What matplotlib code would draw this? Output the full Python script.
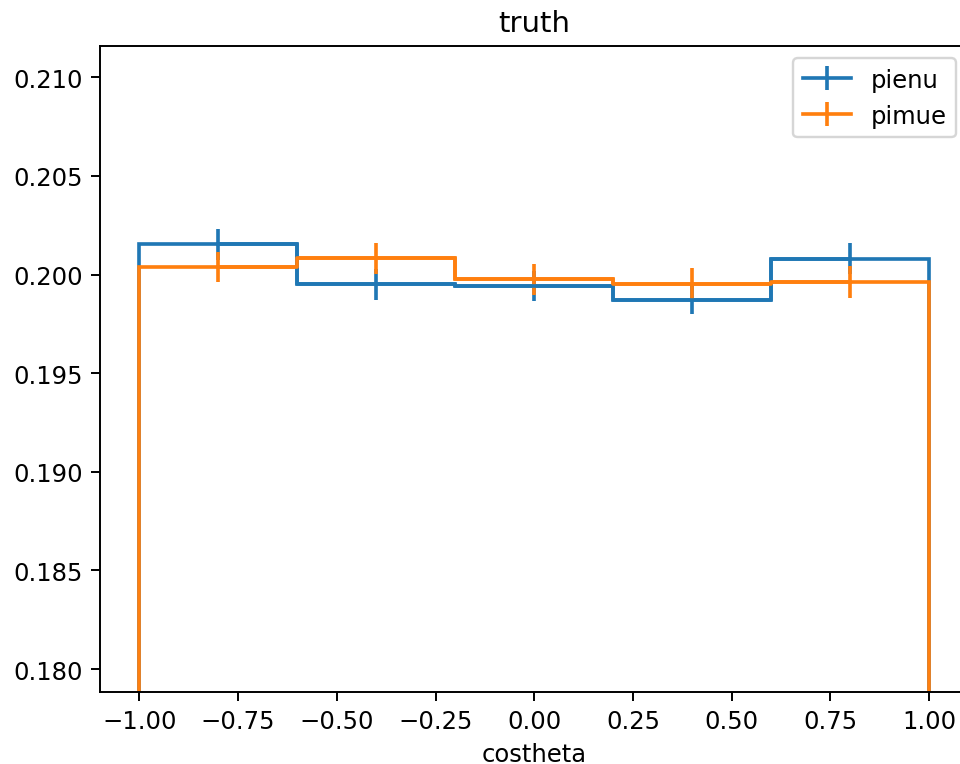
import numpy as np
import matplotlib
matplotlib.use("Agg")
import matplotlib.pyplot as plt

# Normalised costheta distributions (5 bins over [-1, 1])
bin_edges = [-1.0, -0.6, -0.2, 0.2, 0.6, 1.0]
pienu = [0.20154, 0.19951, 0.19942, 0.19873, 0.20081]
pienu_err = [0.00079, 0.00078, 0.00078, 0.00074, 0.00080]
pimue = [0.20039, 0.20083, 0.19976, 0.19954, 0.19962]
pimue_err = [0.00077, 0.00078, 0.00078, 0.00078, 0.00082]

edges = np.asarray(bin_edges)
centers = 0.5 * (edges[:-1] + edges[1:])

DPI = 175
fig = plt.figure(figsize=(960 / DPI, 765 / DPI), dpi=DPI)
W, H = 960.0, 765.0
left, right = 100.0 / W, 968.5 / W
bottom, top = 1 - 692.7 / H, 1 - 46.7 / H
ax = fig.add_axes([left, bottom, right - left, top - bottom])

for vals, errs, color, name in [(pienu, pienu_err, "C0", "pienu"),
                                (pimue, pimue_err, "C1", "pimue")]:
    ax.hist(edges[:-1], bins=edges, weights=vals, histtype="step",
            color=color, linewidth=1.5)
    ax.errorbar(centers, vals, yerr=errs, color=color, drawstyle="steps-mid",
                linewidth=1.5, label=name)

ax.set_xlim(-1.1, 1.1)
ax.set_ylim(0.17885, 0.2116)
ax.set_xlabel("costheta")
ax.set_title("truth")
ax.legend(loc="upper right")

fig.savefig("out.png", dpi=DPI)
